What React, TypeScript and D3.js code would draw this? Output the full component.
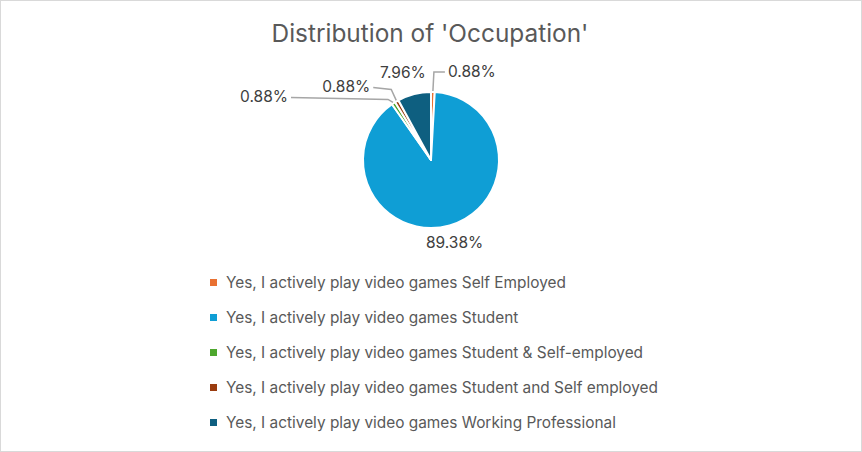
import React, { useRef, useEffect } from 'react';
import * as d3 from 'd3';

const categories = [
  'Yes, I actively play video games Self Employed',
  'Yes, I actively play video games Student',
  'Yes, I actively play video games Student & Self-employed',
  'Yes, I actively play video games Student and Self employed',
  'Yes, I actively play video games Working Professional',
];
const percents = [0.88, 89.38, 0.88, 0.88, 7.96];
const colors = ['#E97132', '#0F9ED5', '#4EA72E', '#9A3C0F', '#0E5F80'];
const title = "Distribution of 'Occupation'";

// where each data label sits, relative to the slice's outer edge midpoint (label anchor, leader path)
const labelPlacement = [
  { dx: 14, dy: -19, anchor: 'start', leader: true },
  { dx: 0, dy: 0, anchor: 'middle', leader: false },
  { dx: -104, dy: -5, anchor: 'end', leader: true },
  { dx: -25, dy: -13, anchor: 'end', leader: true },
  { dx: -11, dy: -20, anchor: 'middle', leader: false },
];

const App = () => {
  const ref = useRef(null);
  const width = 862;
  const height = 452;

  useEffect(() => {
    const svg = d3.select(ref.current);
    svg.selectAll('*').remove();

    const font = 'Inter, "Open Sans", sans-serif';

    svg.append('rect')
      .attr('x', 0.5).attr('y', 0.5)
      .attr('width', width - 1).attr('height', height - 1)
      .attr('fill', '#fff').attr('stroke', '#D9D9D9');

    svg.append('text')
      .attr('x', 430).attr('y', 42)
      .attr('text-anchor', 'middle')
      .attr('font-family', font)
      .attr('font-size', 24.4)
      .attr('fill', '#595959')
      .text(title);

    const cx = 431;
    const cy = 160;
    const r = 68;

    const data = categories.map((c, i) => ({ name: c, value: percents[i], color: colors[i], i }));
    const pie = d3.pie().value((d) => d.value).sort(null);
    const arcs = pie(data);
    const arc = d3.arc().innerRadius(0).outerRadius(r);

    const g = svg.append('g').attr('transform', `translate(${cx},${cy})`);

    g.selectAll('path.slice')
      .data(arcs)
      .enter()
      .append('path')
      .attr('class', 'slice')
      .attr('d', arc)
      .attr('fill', (d) => d.data.color)
      .attr('stroke', '#fff')
      .attr('stroke-width', 2)
      .attr('stroke-linejoin', 'round');

    arcs.forEach((a, i) => {
      const mid = (a.startAngle + a.endAngle) / 2;
      const p = labelPlacement[i];
      const label = `${percents[i].toFixed(2)}%`;
      if (i === 1) {
        const R = r + 18;
        g.append('text')
          .attr('x', Math.sin(mid) * R)
          .attr('y', -Math.cos(mid) * R + 5)
          .attr('text-anchor', 'middle')
          .attr('font-family', font)
          .attr('font-size', 15.5)
          .attr('fill', '#404040')
          .text(label);
        return;
      }
      const ox = Math.sin(mid) * (r + 1);
      const oy = -Math.cos(mid) * (r + 1);
      const lx = ox + p.dx;
      const ly = oy + p.dy;
      if (p.leader) {
        let pts;
        if (p.anchor === 'start') {
          pts = [[ox, oy], [ox + 1, ly], [lx - 2, ly]];
        } else {
          pts = [[ox, oy], [ox - 5, ly + 2], [lx + 2, ly]];
        }
        g.append('path')
          .attr('d', d3.line()(pts))
          .attr('fill', 'none')
          .attr('stroke', '#A6A6A6')
          .attr('stroke-width', 1.5);
      }
      g.append('text')
        .attr('x', p.anchor === 'start' ? lx + 1 : p.anchor === 'end' ? lx - 1 : lx)
        .attr('y', ly + 5)
        .attr('text-anchor', p.anchor)
        .attr('font-family', font)
        .attr('font-size', 15.5)
        .attr('fill', '#404040')
        .text(label);
    });

    // legend
    const ly = d3.scaleBand().domain(categories).range([265, 440]);
    const legend = svg.append('g');
    categories.forEach((c, i) => {
      const y = ly(c) + ly.bandwidth() / 2;
      legend.append('rect')
        .attr('x', 210).attr('y', y - 3.5)
        .attr('width', 7).attr('height', 7)
        .attr('fill', colors[i]);
      legend.append('text')
        .attr('x', 226).attr('y', y + 5)
        .attr('font-family', font)
        .attr('font-size', 15.4)
        .attr('fill', '#595959')
        .text(c);
    });
  }, []);

  return (
    <svg
      ref={ref}
      width={width}
      height={height}
      style={{ position: 'absolute', left: 0, top: 0, display: 'block' }}
    />
  );
};

export default App;
